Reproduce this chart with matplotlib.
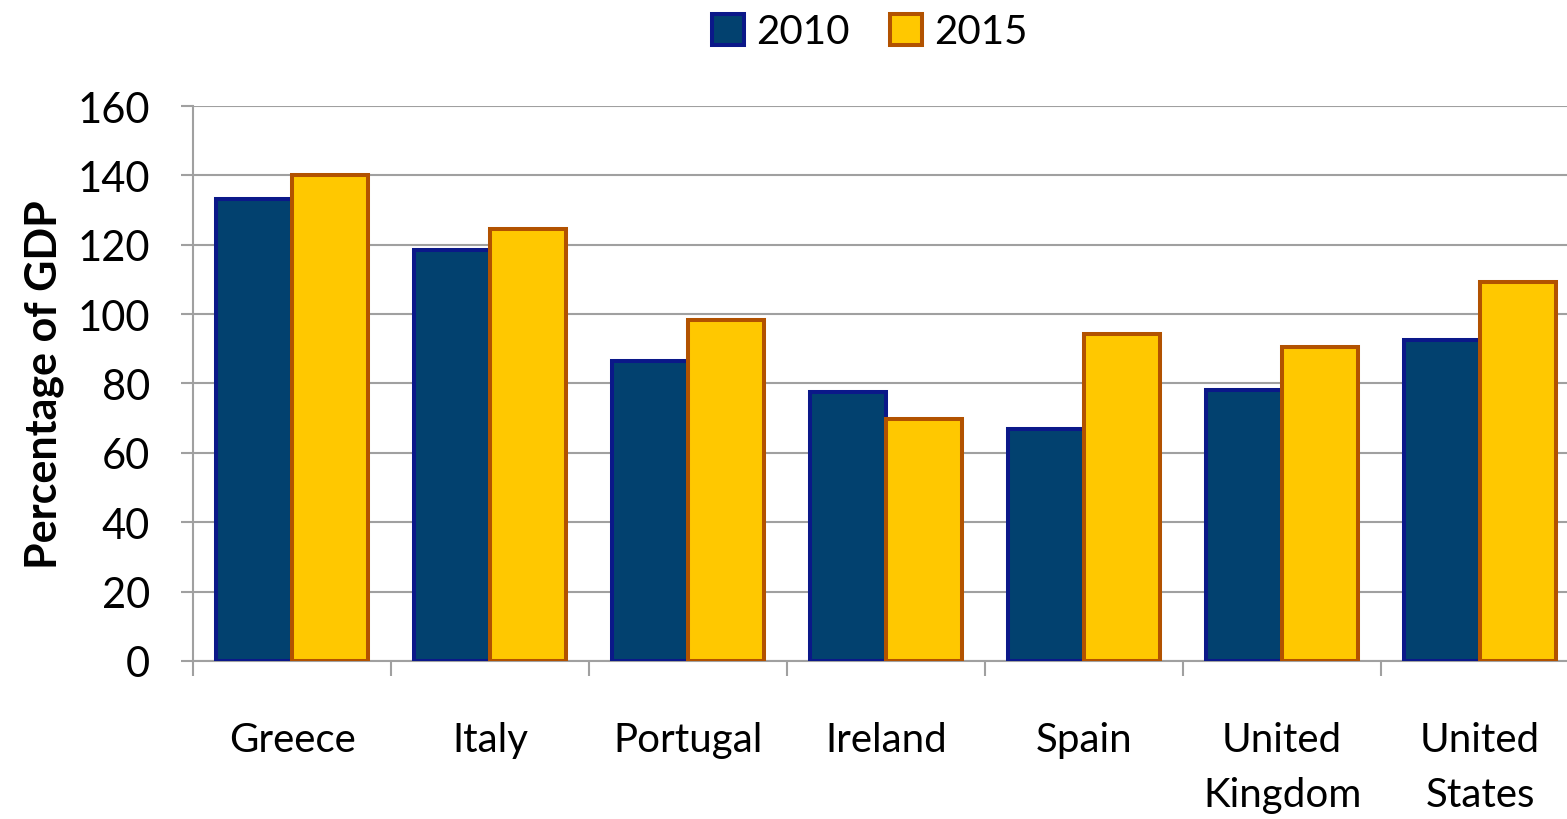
import matplotlib
import numpy as np
import matplotlib.pyplot as plt

matplotlib.use('Agg')

# 数据
countries = ['Greece', 'Italy', 'Portugal', 'Ireland', 'Spain',
             'United\nKingdom', 'United\nStates']
debt_2010 = [133.2, 118.5, 86.5, 77.5, 66.9, 78.1, 92.5]
debt_2015 = [140.1, 124.5, 98.3, 69.8, 94.3, 90.5, 109.3]
years = ['2010', '2015']
y_ticks = [0, 20, 40, 60, 80, 100, 120, 140, 160]

plt.rcParams['font.family'] = ['Lato', 'DejaVu Sans']

fig = plt.figure(figsize=(15.67, 8.2), dpi=100)
ax = fig.add_axes([0.1232, 0.1927, 0.8845, 0.6768])

x = np.arange(len(countries))
w = 0.385
ax.bar(x - w / 2, debt_2010, w, color='#02416F', edgecolor='#0B1889',
       linewidth=2.9, label=years[0], zorder=3)
ax.bar(x + w / 2, debt_2015, w, color='#FFC800', edgecolor='#B25200',
       linewidth=2.9, label=years[1], zorder=3)

ax.set_xlim(-0.5, len(countries) - 0.5)
ax.set_ylim(0, 160)
ax.set_yticks(y_ticks)
ax.yaxis.grid(True, color='#A0A0A0', linewidth=1.5, zorder=0)

# x 轴刻度在类别之间
ax.set_xticks(np.arange(len(countries) + 1) - 0.5)
ax.set_xticklabels([])
ax.set_xticks(x, minor=True)
ax.set_xticklabels(countries, minor=True, fontsize=29, linespacing=1.6, va='top')
ax.tick_params(axis='x', which='minor', length=0, pad=43)
ax.tick_params(axis='x', which='major', length=11, width=1.5, color='#A0A0A0')
ax.tick_params(axis='y', length=9, width=1.5, color='#A0A0A0', labelsize=30, pad=22)

for s in ['top', 'right']:
    ax.spines[s].set_visible(False)
for s in ['left', 'bottom']:
    ax.spines[s].set_color('#A0A0A0')
    ax.spines[s].set_linewidth(1.5)

ax.set_ylabel('Percentage of GDP', fontsize=31, fontweight='bold', labelpad=10)

fig.legend(loc='upper center', bbox_to_anchor=(0.555, 1.027), ncol=2, frameon=False,
           fontsize=29, handlelength=0.8, handleheight=0.8, handletextpad=0.3,
           columnspacing=1.0)

plt.savefig('out.png', dpi=100)
